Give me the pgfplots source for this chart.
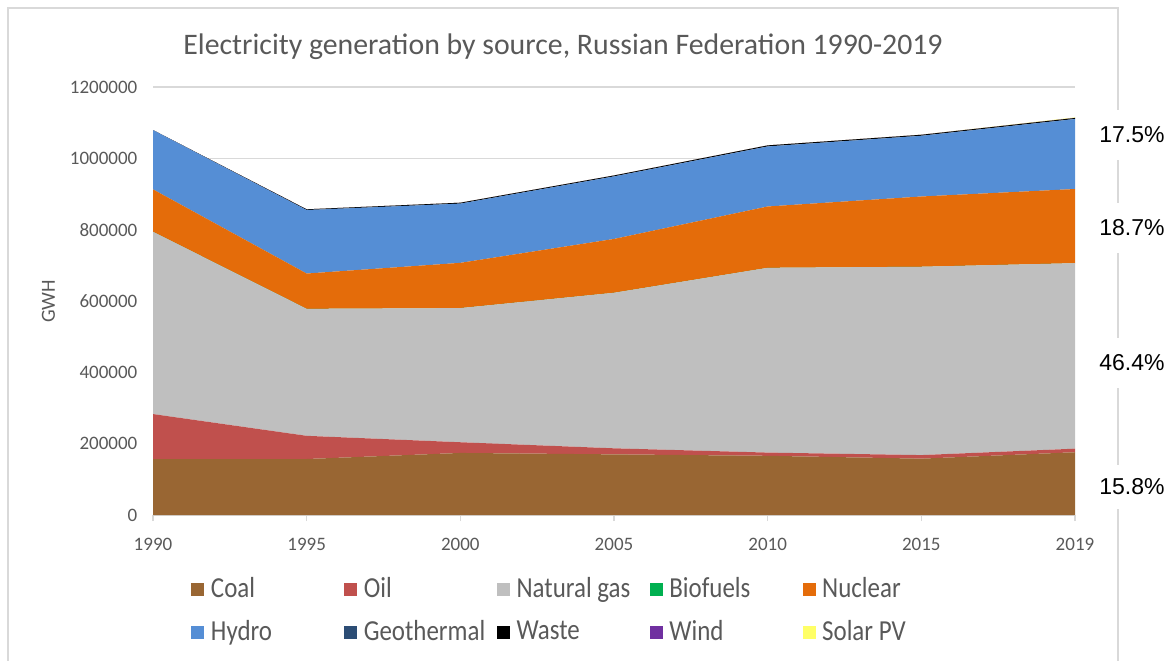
\documentclass[border=0pt]{standalone}
\usepackage{graphicx}
\usepackage{fontspec}
\setmainfont{Carlito}
\newfontfamily\arialfont{Liberation Sans}
\usepackage{pgfplots}
\pgfplotsset{compat=1.18}
\usepackage{pgfplotstable}

\definecolor{coalc}{HTML}{996633}
\definecolor{oilc}{HTML}{C0504D}
\definecolor{gasc}{HTML}{BFBFBF}
\definecolor{bioc}{HTML}{00B050}
\definecolor{nucc}{HTML}{E46C0A}
\definecolor{hydroc}{HTML}{558ED5}
\definecolor{geoc}{HTML}{2C4D75}
\definecolor{wastec}{HTML}{000000}
\definecolor{windc}{HTML}{7030A0}
\definecolor{solarc}{HTML}{FFFF66}
\definecolor{txt}{HTML}{595959}
\definecolor{gridc}{HTML}{D9D9D9}

% GWh, years 1990 1995 2000 2005 2010 2015 2019 at x = 0..6
\pgfplotstableread{
x coal   oil    gas    bio  nuc    hydro  geo waste wind solar
0 157000 126000 511000 0    119000 166000 30  0     0    0
1 157000 65000  356000 0    99000  178000 50  2000  0    0
2 174000 30000  376000 0    127000 166000 90  2500  0    0
3 170000 17000  436000 0    151000 175000 440 2500  10   0
4 166000 9000   518000 0    172000 168000 500 2800  10   0
5 158000 10000  528000 0    197000 170000 440 2600  150  160
6 176000 10000  520000 0    208000 196000 420 2700  320  1280
}\gendata

\newcommand\legtext[1]{\makebox[66.6pt][l]{\scalebox{0.86}[1]{#1}}}

\begin{document}
\begin{tikzpicture}
\useasboundingbox (0,0) rectangle (586pt,330pt);
% chart frame
\draw[gridc, line width=1pt] (3.75pt,-5pt) -- (3.75pt,326pt) -- (559pt,326pt) -- (559pt,-5pt);

\begin{axis}[
  at={(76.5pt,72.5pt)}, anchor=south west,
  scale only axis, width=461pt, height=214pt,
  stack plots=y,
  xmin=0, xmax=6, ymin=0, ymax=1200000,
  xtick={0,...,6},
  xticklabels={1990,1995,2000,2005,2010,2015,2019},
  ytick={0,200000,...,1200000},
  scaled y ticks=false,
  /pgf/number format/assume math mode=true,
  y tick label style={/pgf/number format/fixed, /pgf/number format/1000 sep={}, xshift=-1.3pt},
  x tick label style={yshift=-5pt},
  tick label style={font=\fontsize{9.5}{11}\selectfont, text=txt},
  axis x line*=bottom, axis y line*=left,
  y axis line style={draw=none},
  x axis line style={gridc, line width=0.75pt},
  ytick style={draw=none},
  xtick style={gridc, line width=0.75pt},
  tick align=outside, major tick length=3pt,
  ymajorgrids, grid style={gridc, line width=0.75pt},
  legend columns=5,
  legend cell align=left,
  legend style={at={(0.0412,-0.145)}, anchor=north west, draw=none, fill=none,
    inner sep=0pt, font=\fontsize{14.5}{17}\selectfont, text=txt, row sep=10pt,
    nodes={inner sep=0pt},
    /tikz/every odd column/.append style={column sep=3.3pt}},
  legend image code/.code={\fill[#1] (0pt,-3.25pt) rectangle (6.5pt,3.25pt);},
]
\addplot[fill=coalc, draw=none] table[x=x, y=coal] {\gendata} \closedcycle;
\addplot[fill=oilc, draw=none] table[x=x, y=oil] {\gendata} \closedcycle;
\addplot[fill=gasc, draw=none] table[x=x, y=gas] {\gendata} \closedcycle;
\addplot[fill=bioc, draw=none] table[x=x, y=bio] {\gendata} \closedcycle;
\addplot[fill=nucc, draw=none] table[x=x, y=nuc] {\gendata} \closedcycle;
\addplot[fill=hydroc, draw=none] table[x=x, y=hydro] {\gendata} \closedcycle;
\addplot[fill=geoc, draw=none] table[x=x, y=geo] {\gendata} \closedcycle;
\addplot[fill=wastec, draw=none] table[x=x, y=waste] {\gendata} \closedcycle;
\addplot[fill=windc, draw=none] table[x=x, y=wind] {\gendata} \closedcycle;
\addplot[fill=solarc, draw=none] table[x=x, y=solar] {\gendata} \closedcycle;
\addlegendentry{\legtext{Coal}}
\addlegendentry{\legtext{Oil}}
\addlegendentry{\legtext{Natural gas}}
\addlegendentry{\legtext{Biofuels}}
\addlegendentry{\legtext{Nuclear}}
\addlegendentry{\legtext{Hydro}}
\addlegendentry{\legtext{Geothermal}}
\addlegendentry{\legtext{Waste}}
\addlegendentry{\legtext{Wind}}
\addlegendentry{\legtext{Solar PV}}
\end{axis}

% title and axis label
\node[anchor=base, text=txt, font=\fontsize{14.9}{17}\selectfont] at (281.5pt,302.75pt)
  {Electricity generation by source, Russian Federation 1990-2019};
\node[rotate=90, text=txt, font=\fontsize{10}{12}\selectfont] at (24.25pt,179.25pt) {GWH};

% shares in 2019
\begin{scope}[every node/.style={fill=white, inner xsep=1pt, minimum height=25pt,
    font=\arialfont\fontsize{11.5}{13}\selectfont}]
\node at (566pt,262.5pt) {17.5\%};
\node at (566pt,216pt) {18.7\%};
\node at (566pt,148.5pt) {46.4\%};
\node[minimum height=22pt] at (566pt,86.5pt) {15.8\%};
\end{scope}
\end{tikzpicture}
\end{document}
